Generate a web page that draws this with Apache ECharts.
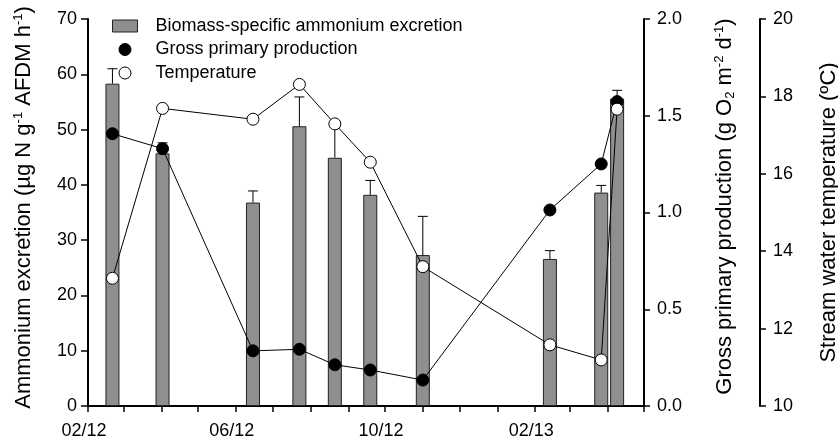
<!DOCTYPE html>
<html>
<head>
<meta charset="utf-8">
<script src="https://cdn.jsdelivr.net/npm/echarts@6/dist/echarts.min.js"></script>
<style>
html,body{margin:0;padding:0;background:#fff;}
#c{width:838px;height:445px;}
</style>
</head>
<body>
<div id="c"></div>
<script>
// ---- data ----
const sampleDates = ['2012-02-21','2012-04-02','2012-06-15','2012-07-23','2012-08-21','2012-09-19','2012-11-01','2013-02-13','2013-03-27','2013-04-09'];
const excretion = [58.3, 45.7, 36.8, 50.6, 44.9, 38.2, 27.3, 26.6, 38.6, 55.6];
const excretionUpper = [61.0, 47.6, 38.9, 55.9, 51.0, 40.8, 34.3, 28.1, 39.9, 57.1];
const gpp = [1.407, 1.330, 0.285, 0.293, 0.213, 0.186, 0.134, 1.013, 1.251, 1.573];
const temperature = [13.30, 17.69, 17.41, 18.31, 17.29, 16.30, 13.60, 11.58, 11.19, 17.67];
const monthTicks = ['2012-02-01','2012-03-01','2012-04-01','2012-05-01','2012-06-01','2012-07-01','2012-08-01','2012-09-01','2012-10-01','2012-11-01','2012-12-01','2013-01-01','2013-02-01','2013-03-01','2013-04-01','2013-05-01'];
const labelTicks = ['2012-02-01','2012-06-01','2012-10-01','2013-02-01'];
const xMin = '2012-02-01', xMax = '2013-05-01';

function ts(s){ return Date.UTC(+s.slice(0,4), +s.slice(5,7)-1, +s.slice(8,10)); }
function pad(n){ return (n<10?'0':'')+n; }

const FONT = 'Liberation Sans, Arial, sans-serif';
const chart = echarts.init(document.getElementById('c'), null, {renderer:'canvas'});

const axisLineStyle = {color:'#000', width:2};
const barData = sampleDates.map((d,i)=>[ts(d), excretion[i]]);
const errData = sampleDates.map((d,i)=>[ts(d), excretion[i], excretionUpper[i]]);
const gppData = sampleDates.map((d,i)=>[ts(d), gpp[i]]);
const tempData = sampleDates.map((d,i)=>[ts(d), temperature[i]]);

const titleRich = {
  n:{fontSize:22, fontFamily:FONT, color:'#000', lineHeight:24},
  s:{fontSize:13, fontFamily:FONT, color:'#000', lineHeight:13, verticalAlign:'top'},
  b:{fontSize:13, fontFamily:FONT, color:'#000', lineHeight:13, verticalAlign:'bottom'}
};

chart.setOption({
  animation:false,
  backgroundColor:'#fff',
  textStyle:{fontFamily:FONT},
  grid:{left:88, right:194, top:19, bottom:39, containLabel:false, outerBoundsMode:'none'},
  legend:{
    orient:'vertical', left:112, top:17, padding:0, itemGap:5.5,
    itemWidth:25, itemHeight:12,
    textStyle:{fontSize:18, fontFamily:FONT, color:'#000', lineHeight:18, padding:[0,0,0,13]},
    data:[
      {name:'Biomass-specific ammonium excretion', icon:'rect', itemStyle:{color:'#8f8f8f', borderColor:'#222', borderWidth:1}},
      {name:'Gross primary production', icon:'circle', itemStyle:{color:'#000', borderColor:'#000', borderWidth:1}},
      {name:'Temperature', icon:'circle', itemStyle:{color:'#fff', borderColor:'#000', borderWidth:1}}
    ],
    selectedMode:false
  },
  xAxis:{
    type:'value', min:ts(xMin), max:ts(xMax),
    axisLine:{show:true, onZero:false, lineStyle:axisLineStyle},
    axisTick:{show:true, length:6, lineStyle:{color:'#000', width:1.5}, customValues:monthTicks.map(ts)},
    axisLabel:{
      customValues:labelTicks.map(ts), margin:16, fontSize:18, color:'#000', fontFamily:FONT,
      padding:[0,8,0,0],
      formatter:function(v){ const d=new Date(v); return pad(d.getUTCMonth()+1)+'/'+String(d.getUTCFullYear()).slice(2); }
    },
    splitLine:{show:false}
  },
  yAxis:[
    {
      type:'value', position:'left', min:0, max:70, interval:10,
      name:'{n|Ammonium excretion (µg N g}{s|-1}{n| AFDM h}{s|-1}{n|)}',
      nameLocation:'middle', nameGap:52,
      nameTextStyle:{rich:titleRich, padding:[0,0,0,10]},
      axisLine:{show:true, lineStyle:axisLineStyle},
      axisTick:{show:true, length:7, lineStyle:{color:'#000', width:1.5}},
      axisLabel:{margin:11, fontSize:18, color:'#000', fontFamily:FONT},
      splitLine:{show:false}
    },
    {
      type:'value', position:'right', min:0, max:2, interval:0.5,
      name:'{n|Gross primary production (g O}{b|2}{n| m}{s|-2}{n| d}{s|-1}{n|)}',
      nameLocation:'middle', nameGap:69,
      nameTextStyle:{rich:titleRich, padding:[0,0,0,12]},
      axisLine:{show:true, lineStyle:axisLineStyle},
      axisTick:{show:true, length:6, lineStyle:{color:'#000', width:1.5}},
      axisLabel:{margin:13, fontSize:18, color:'#000', fontFamily:FONT, formatter:v=>v.toFixed(1)},
      splitLine:{show:false}
    },
    {
      type:'value', position:'right', offset:116, min:10, max:20, interval:2,
      name:'{n|Stream water temperature (ºC)}',
      nameLocation:'middle', nameGap:57,
      nameTextStyle:{rich:titleRich},
      axisLine:{show:true, lineStyle:axisLineStyle},
      axisTick:{show:true, length:6, lineStyle:{color:'#000', width:1.5}},
      axisLabel:{margin:13, fontSize:18, color:'#000', fontFamily:FONT},
      splitLine:{show:false}
    }
  ],
  series:[
    {
      name:'Biomass-specific ammonium excretion', type:'bar', yAxisIndex:0, barWidth:14, z:2,
      itemStyle:{color:'#8f8f8f', borderColor:'#222', borderWidth:1},
      data:barData
    },
    {
      name:'err', type:'custom', yAxisIndex:0, z:3,
      renderItem:function(params, api){
        const x=api.value(0), v=api.value(1), hi=api.value(2);
        const p0=api.coord([x,v]), p1=api.coord([x,hi]);
        return {type:'group', children:[
          {type:'line', shape:{x1:p0[0], y1:p0[1], x2:p1[0], y2:p1[1]}, style:{stroke:'#000', lineWidth:1}},
          {type:'line', shape:{x1:p1[0]-5, y1:p1[1], x2:p1[0]+5, y2:p1[1]}, style:{stroke:'#000', lineWidth:1}}
        ]};
      },
      data:errData
    },
    {
      name:'Gross primary production', type:'line', yAxisIndex:1, z:4,
      symbol:'circle', symbolSize:12, showAllSymbol:true,
      lineStyle:{color:'#000', width:1},
      itemStyle:{color:'#000', borderColor:'#000', borderWidth:1},
      data:gppData
    },
    {
      name:'Temperature', type:'line', yAxisIndex:2, z:5,
      symbol:'circle', symbolSize:12, showAllSymbol:true,
      lineStyle:{color:'#000', width:1},
      itemStyle:{color:'#fff', borderColor:'#000', borderWidth:1},
      data:tempData
    }
  ]
});
</script>
</body>
</html>
